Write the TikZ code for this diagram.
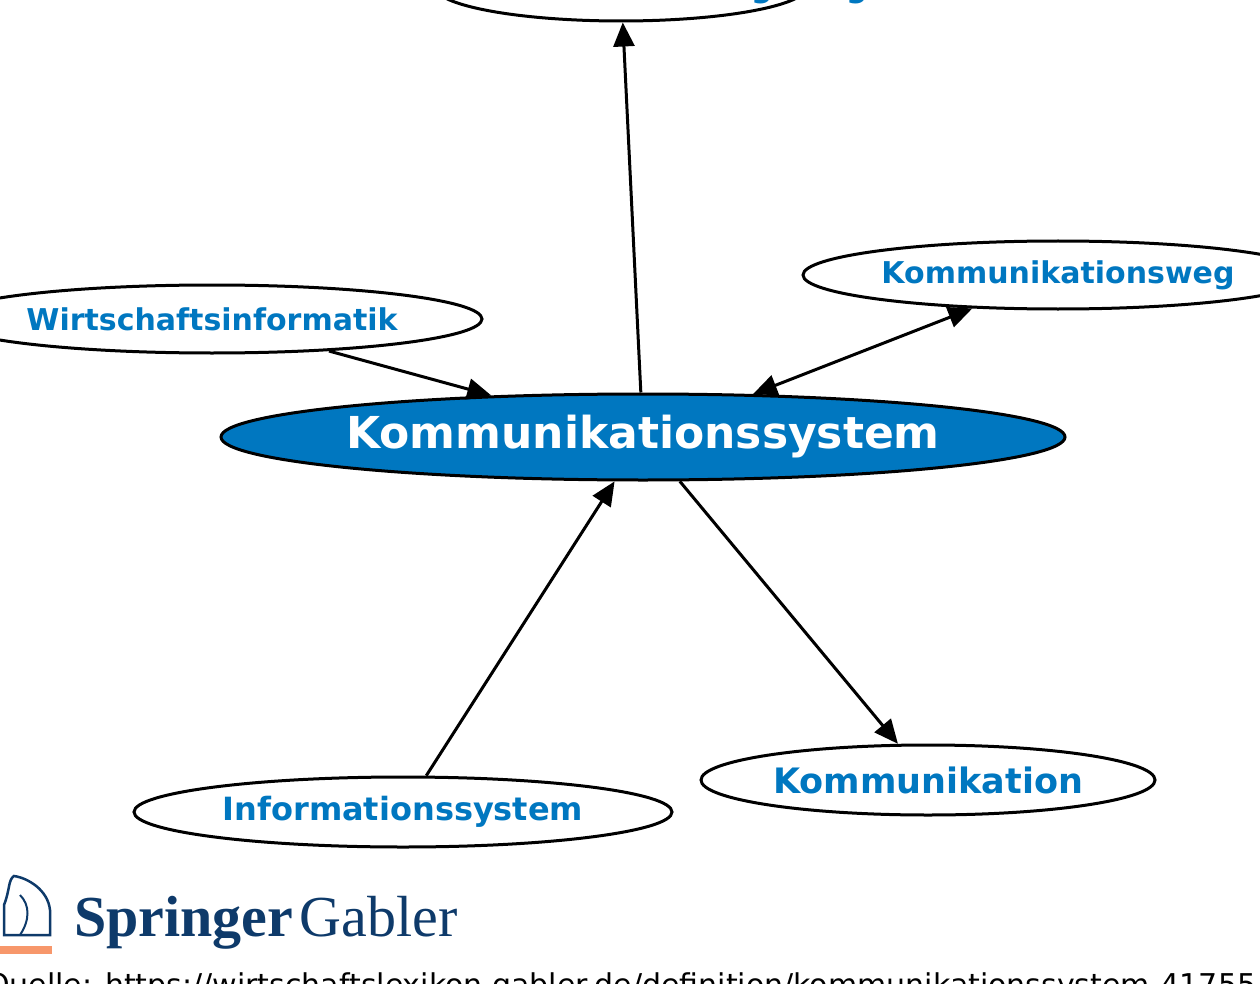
\documentclass[tikz,border=0pt]{standalone}
\usepackage{fontspec}
\setmainfont{DejaVu Sans}
\newfontfamily\logofont{Liberation Serif}
\usetikzlibrary{shapes.geometric,arrows.meta}
\definecolor{sblue}{HTML}{0077C0}
\definecolor{logoblue}{HTML}{0E3A6A}
\definecolor{logoorange}{HTML}{F7976B}
\begin{document}
\begin{tikzpicture}[x=1pt,y=-1pt,
  term/.style={ellipse,draw=black,line width=3pt,fill=white,inner sep=0pt,font=\bfseries\fontsize{30}{32}\selectfont,text=sblue},
  arr/.style={line width=3pt,-{Triangle[length=24pt,width=21pt]}}]
\useasboundingbox (0,0) rectangle (1260,984);
\clip (0,0) rectangle (1260,984);
\node[term,fill=sblue,text=white,minimum width=844pt,minimum height=86pt,font=\bfseries\fontsize{44}{46}\selectfont] (main) at (643,437) {Kommunikationssystem};
\node[term,minimum width=374pt,minimum height=70pt] (top) at (621,-14) {};
\node[font=\bfseries\fontsize{30}{32}\selectfont,text=sblue,anchor=base,inner sep=0pt] (toptext) at (650,-2) {Kommunikationsregelung};
\node[term,minimum width=540pt,minimum height=68pt] (wi) at (212,319) {Wirtschaftsinformatik};
\node[term,minimum width=510pt,minimum height=68pt] (weg) at (1058,275) {Kommunikationsweg};
\node[term,minimum width=538pt,minimum height=70pt,font=\bfseries\fontsize{32}{34}\selectfont] (is) at (403,812) {Informationssystem};
\node[term,minimum width=454pt,minimum height=70pt,font=\bfseries\fontsize{35}{37}\selectfont] (k) at (928,780) {Kommunikation};
\draw[arr] (main) -- (top);
\draw[arr] (wi) -- (main);
\draw[line width=3pt,{Triangle[length=24pt,width=21pt]}-{Triangle[length=24pt,width=21pt]}] (main) -- (weg);
\draw[arr] (is) -- (main);
\draw[arr] (main) -- (k);
% logo
\fill[logoorange] (0,946) rectangle (52,954);
\draw[logoblue,line width=2.5pt] (4,935) -- (4,905) .. controls (10,890) and (8,880) .. (14,876) .. controls (28,878) and (48,890) .. (50,910) -- (50,935) -- cycle;
\draw[logoblue,line width=2pt] (20,935) .. controls (30,920) and (30,905) .. (20,895);
\node[anchor=base west,inner sep=0pt,text=logoblue,font=\logofont\bfseries\fontsize{58}{58}\selectfont] (spr) at (74,936) {Springer};
\node[anchor=base west,inner sep=0pt,text=logoblue,font=\logofont\fontsize{58}{58}\selectfont] (gab) at ([xshift=6pt]spr.base east) {Gabler};
\node[anchor=base west,inner sep=0pt,font=\fontsize{30}{32}\selectfont] (q) at (-14,995) {Quelle: https://wirtschaftslexikon.gabler.de/definition/kommunikationssystem-41755};
\end{tikzpicture}
\end{document}
